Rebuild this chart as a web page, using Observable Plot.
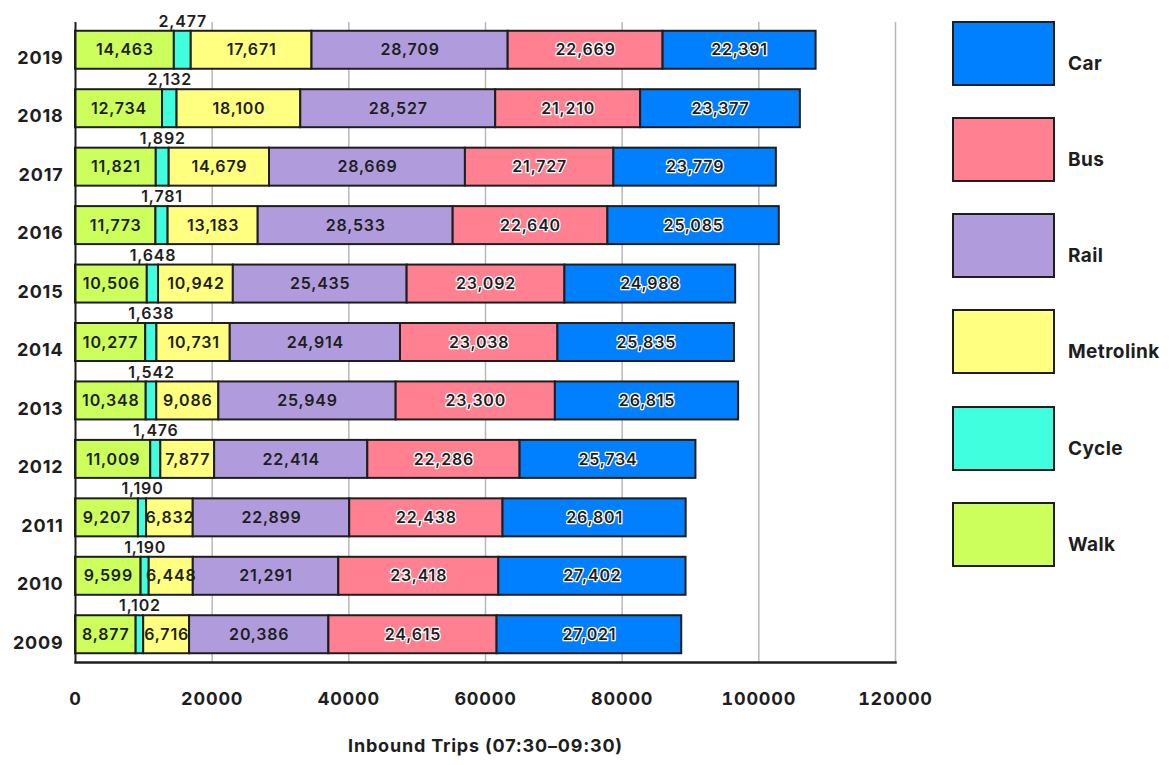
<!DOCTYPE html>
<html>
<head>
<meta charset="utf-8">
<script src="https://cdn.jsdelivr.net/npm/d3@7"></script>
<script src="https://cdn.jsdelivr.net/npm/@observablehq/plot@0.6"></script>
<style>
  html, body { margin: 0; padding: 0; background: #fff; }
  #wrap { position: relative; width: 1170px; height: 765px; font-family: Inter, "Noto Sans", sans-serif; }
  #wrap svg text { letter-spacing: 0.8px; }
  .lbox { position: absolute; box-sizing: border-box; border: 2px solid #1e1e1e; }
  .ltxt { position: absolute; font-size: 19px; font-weight: 700; color: #1e1e1e; transform: translateY(-50%); letter-spacing: 0.4px; }
</style>
</head>
<body>
<div id="wrap"></div>
<script>
// ---- data ----
const years = ["2019","2018","2017","2016","2015","2014","2013","2012","2011","2010","2009"];
const modes = ["Walk","Cycle","Metrolink","Rail","Bus","Car"];
const colors = ["#ccff5c","#40ffdf","#ffff80","#b09cdc","#ff8090","#0080ff"];
const walk      = [14463,12734,11821,11773,10506,10277,10348,11009,9207,9599,8877];
const cycle     = [2477,2132,1892,1781,1648,1638,1542,1476,1190,1190,1102];
const metrolink = [17671,18100,14679,13183,10942,10731,9086,7877,6832,6448,6716];
const rail      = [28709,28527,28669,28533,25435,24914,25949,22414,22899,21291,20386];
const bus       = [22669,21210,21727,22640,23092,23038,23300,22286,22438,23418,24615];
const car       = [22391,23377,23779,25085,24988,25835,26815,25734,26801,27402,27021];
const xTicks = [0,20000,40000,60000,80000,100000,120000];
const legendOrder = ["Car","Bus","Rail","Metrolink","Cycle","Walk"];
const xTitle = "Inbound Trips (07:30\u201309:30)";

const series = {Walk: walk, Cycle: cycle, Metrolink: metrolink, Rail: rail, Bus: bus, Car: car};
const rows = [];
years.forEach((y, i) => modes.forEach(m => rows.push({year: y, mode: m, value: series[m][i]})));
const fmt = d3.format(",");
const colorOf = Object.fromEntries(modes.map((m, i) => [m, colors[i]]));

const stackOpts = (extra) => Plot.stackX({x: "value", y: "year", z: "mode", order: modes, ...extra});

const chart = Plot.plot({
  width: 1170,
  height: 765,
  marginLeft: 75,
  marginRight: 275,
  marginTop: 22,
  marginBottom: 103,
  style: {fontFamily: "Inter, 'Noto Sans', sans-serif", background: "transparent", color: "#1e1e1e"},
  x: {domain: [0, 120000], label: null},
  y: {domain: years, paddingInner: 0.35, paddingOuter: 0.15, round: false, label: null},
  color: {domain: modes, range: colors},
  marks: [
    Plot.ruleX(xTicks.slice(1), {stroke: "#b8b8b8", strokeWidth: 1.5}),
    Plot.barX(rows, stackOpts({fill: "mode", stroke: "#1e1e1e", strokeWidth: 2})),
    Plot.text(rows, stackOpts({
      text: d => (d.mode === "Car" || d.mode === "Bus") ? fmt(d.value) : "",
      fill: "#1e1e1e", stroke: "white", strokeWidth: 2.5, fontSize: 16, fontWeight: 600
    })),
    Plot.text(rows, stackOpts({
      text: d => (d.mode === "Walk" || d.mode === "Metrolink" || d.mode === "Rail") ? fmt(d.value) : "",
      fill: "#1e1e1e", fontSize: 16, fontWeight: 600
    })),
    Plot.text(rows, stackOpts({
      text: d => d.mode === "Cycle" ? fmt(d.value) : "",
      fill: "#1e1e1e", fontSize: 16, fontWeight: 600, dy: -28.5
    })),
    Plot.ruleX([0], {stroke: "#1e1e1e", strokeWidth: 2}),
    Plot.frame({anchor: "bottom", stroke: "#1e1e1e", strokeWidth: 2.5}),
    Plot.axisX({ticks: xTicks, tickFormat: d => String(d), tickSize: 0, tickPadding: 30, fontSize: 18, fontWeight: 700, label: null}),
    Plot.axisY({tickSize: 0, tickPadding: 12, fontSize: 18, fontWeight: 700, dy: 8, label: null}),
    Plot.text([xTitle], {frameAnchor: "bottom", dy: 89, fontSize: 18, fontWeight: 700, fill: "#1e1e1e"})
  ]
});

const wrap = document.getElementById("wrap");
wrap.appendChild(chart);

// legend
legendOrder.forEach((m, i) => {
  const top = 20.5 + i * 96.3;
  const box = document.createElement("div");
  box.className = "lbox";
  box.style.left = "952px";
  box.style.top = top + "px";
  box.style.width = "103px";
  box.style.height = "65px";
  box.style.background = colorOf[m];
  wrap.appendChild(box);
  const t = document.createElement("div");
  t.className = "ltxt";
  t.style.left = "1068px";
  t.style.top = (top + 42) + "px";
  t.textContent = m;
  wrap.appendChild(t);
});
</script>
</body>
</html>
